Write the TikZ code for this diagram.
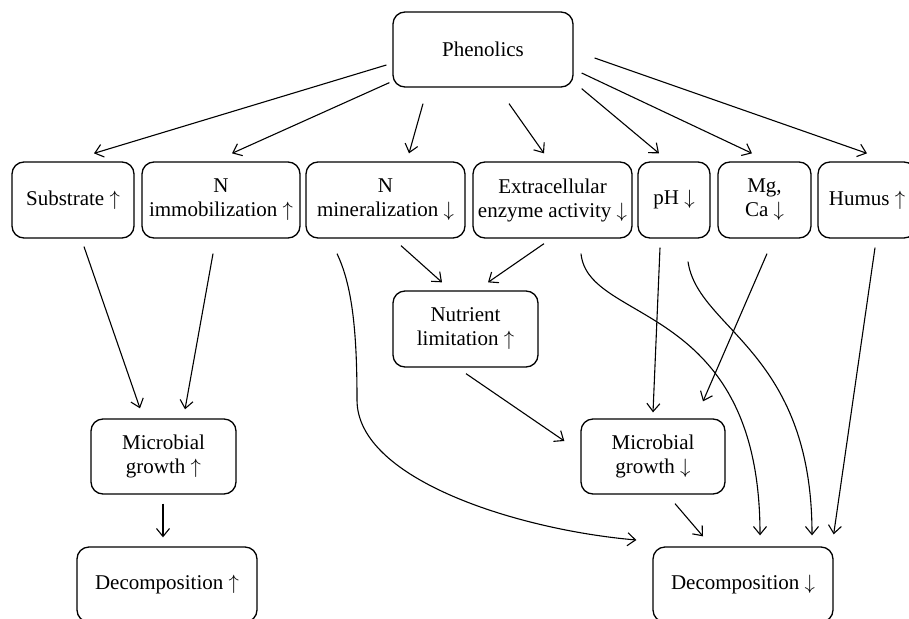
\documentclass[tikz,border=0pt]{standalone}
\usepackage{fontspec}
\setmainfont{Liberation Serif}
\usetikzlibrary{arrows.meta,calc}
\newcommand{\upa}{ $\uparrow$}
\newcommand{\dna}{ $\downarrow$}
\begin{document}
\begin{tikzpicture}[x=1pt,y=-1pt,
  box/.style={draw, rounded corners=12pt, line width=1.3pt, align=center, inner sep=0pt,
    font=\fontsize{21}{24}\selectfont},
  arr/.style={line width=1.1pt, -{Straight Barb[length=8pt,width=13pt]}}]
\useasboundingbox (0,0) rectangle (909,618);
% nodes
\node[box, minimum width=180pt, minimum height=75pt] (phen) at (483,49.5) {Phenolics};
\node[box, minimum width=122pt, minimum height=76pt] (sub) at (73,200) {Substrate\upa};
\node[box, minimum width=158pt, minimum height=76pt] (imm) at (221,200) {N\\immobilization\upa};
\node[box, minimum width=159pt, minimum height=76pt] (min) at (385.5,200) {N\\mineralization\dna};
\node[box, minimum width=159pt, minimum height=76pt] (ext) at (552.5,200) {Extracellular\\enzyme activity\dna};
\node[box, minimum width=72pt, minimum height=76pt] (ph) at (674,200) {pH\dna};
\node[box, minimum width=93pt, minimum height=76pt] (mg) at (764.5,200) {Mg,\\Ca\dna};
\node[box, minimum width=98pt, minimum height=76pt] (hum) at (867,200) {Humus\upa};
\node[box, minimum width=145pt, minimum height=76pt] (nut) at (465.5,329) {Nutrient\\limitation\upa};
\node[box, minimum width=145pt, minimum height=75pt] (mgu) at (163.5,456.5) {Microbial\\growth\upa};
\node[box, minimum width=144pt, minimum height=75pt] (mgd) at (653,456.5) {Microbial\\growth\dna};
\node[box, minimum width=180pt, minimum height=75pt] (decu) at (167,584.5) {Decomposition\upa};
\node[box, minimum width=180pt, minimum height=75pt] (decd) at (743,584.5) {Decomposition\dna};
% helper coordinates
\coordinate (minbend) at (357,400);
% arrows from Phenolics
\draw[arr] ([shift={(-6,15.5)}]phen.west) -- ([shift={(21,-8)}]sub.north);
\draw[arr] ([shift={(-3,-5)}]phen.south west) -- ([shift={(11,-8)}]imm.north);
\draw[arr] ([shift={(-60,16)}]phen.south) -- ([shift={(23.5,-8)}]min.north);
\draw[arr] ([shift={(26,16)}]phen.south) -- ([shift={(-8.5,-8)}]ext.north);
\draw[arr] ([shift={(8,1)}]phen.south east) -- ([shift={(-15,-8)}]ph.north);
\draw[arr] ([shift={(8,23.5)}]phen.east) -- ([shift={(-12.5,-8)}]mg.north);
\draw[arr] ([shift={(21,8.5)}]phen.east) -- ([shift={(0,-8)}]hum.north);
% second level
\draw[arr] ([shift={(11,8)}]sub.south) -- ([shift={(-23.5,-10)}]mgu.north);
\draw[arr] ([shift={(-8,15)}]imm.south) -- ([shift={(21.5,-9)}]mgu.north);
\draw[arr] ([shift={(15.5,7)}]min.south) -- ([shift={(-23.5,-8)}]nut.north);
\draw[arr] ([shift={(-8.5,5)}]ext.south) -- ([shift={(22.5,-8)}]nut.north);
\draw[arr] ([shift={(0.5,6)}]nut.south) -- ([shift={(-16,-15.5)}]mgd.west);
\draw[arr] ([shift={(-0.5,9)}]mgu.south) -- ([shift={(-4,-9)}]decu.north);
\draw[arr] ([shift={(22,9)}]mgd.south) -- ([shift={(-40,-10)}]decd.north);
\draw[arr] ([shift={(-14,9)}]ph.south) -- ([shift={(0,-6)}]mgd.north);
\draw[arr] ([shift={(2.5,15)}]mg.south) -- ([shift={(50,-17)}]mgd.north);
\draw[arr] ([shift={(8,9)}]hum.south) -- ([shift={(0,-12)}]decd.north east);
% curved connectors
\draw[arr] ([shift={(-48.5,15)}]min.south) .. controls (352,285) and (357,330) .. (minbend)
  .. controls (357,480) and (520,530) .. ([shift={(-16,-44.5)}]decd.west);
\draw[arr] ([shift={(28.5,15)}]ext.south) .. controls (588,325) and (760,300) .. ([shift={(17,-11)}]decd.north);
\draw[arr] ([shift={(14,23)}]ph.south) .. controls (698,330) and (812,350) .. ([shift={(69,-11)}]decd.north);
\end{tikzpicture}
\end{document}
